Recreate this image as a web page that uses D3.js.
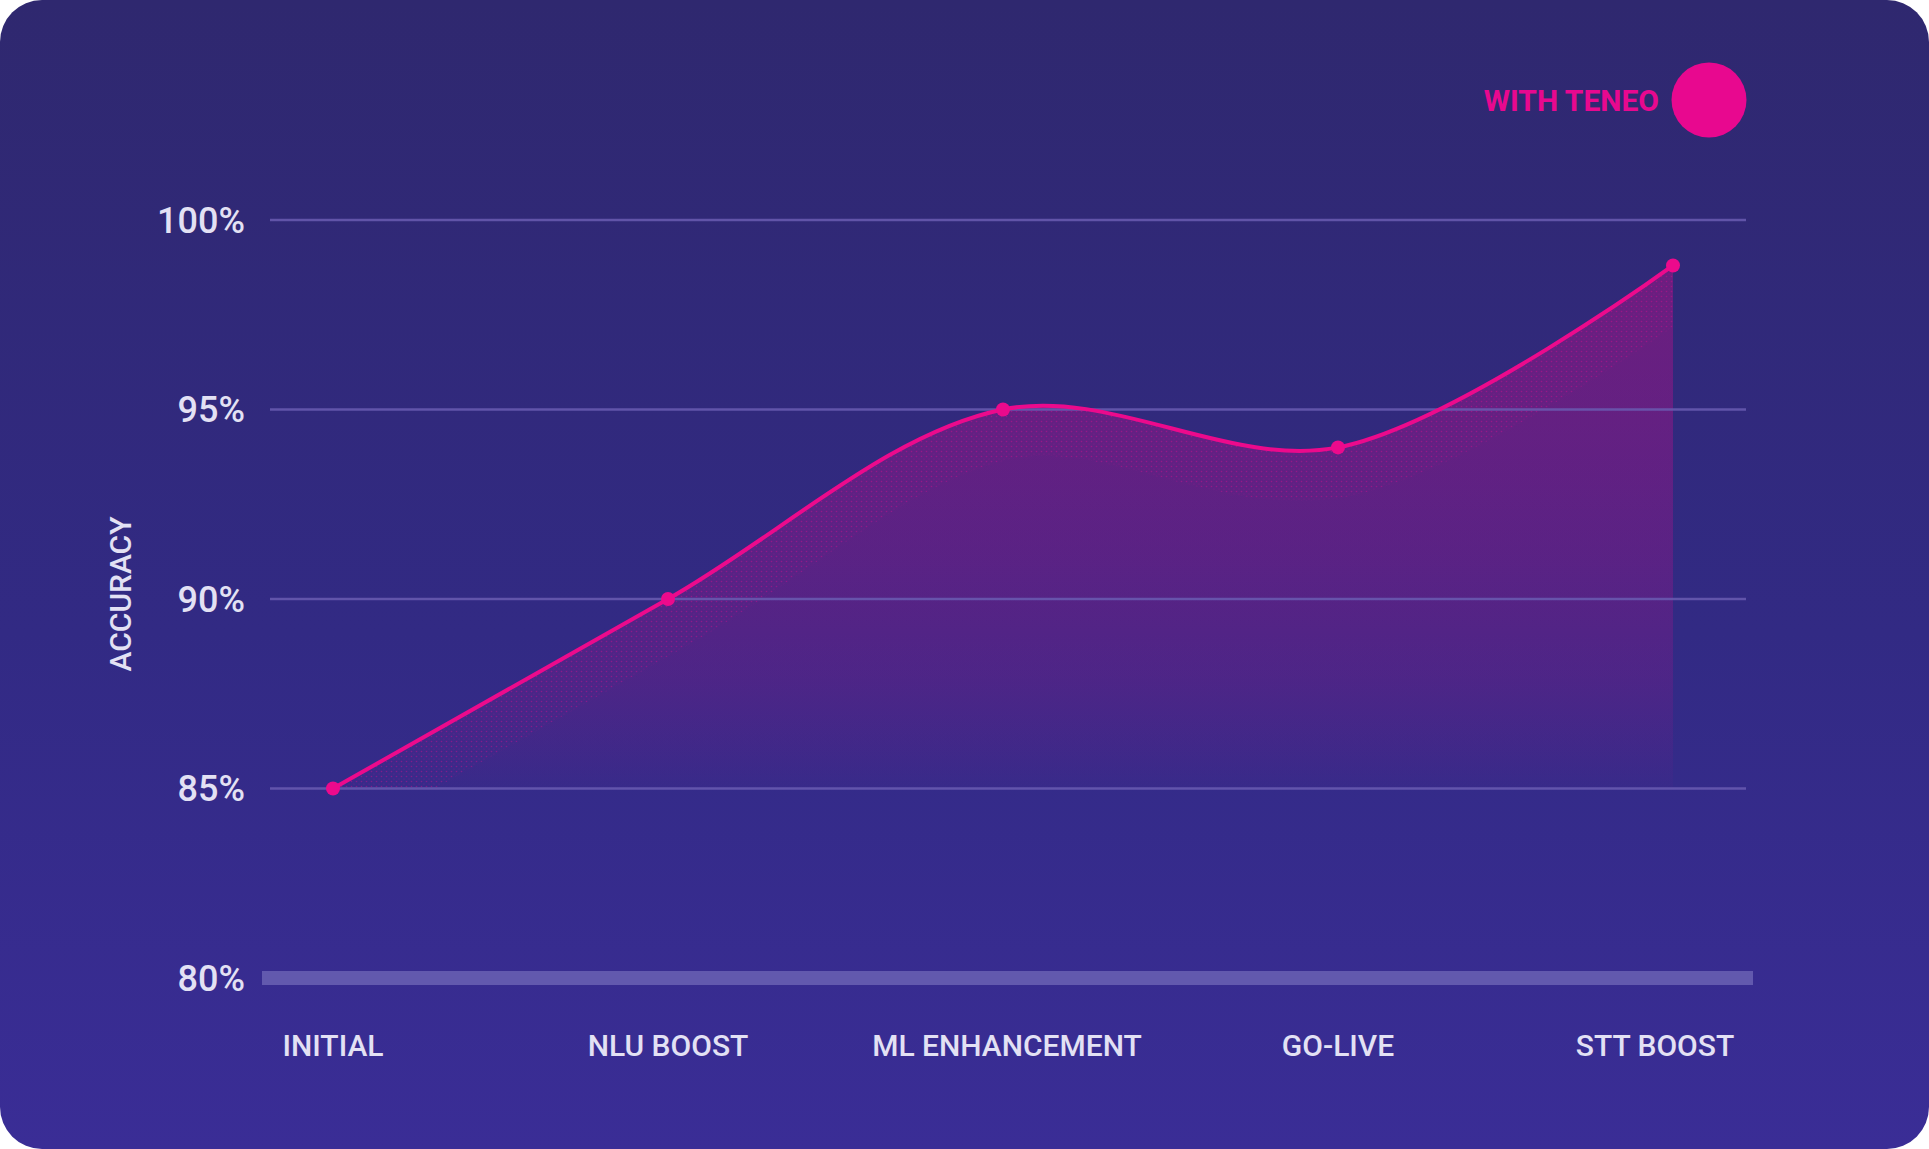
<!DOCTYPE html>
<html><head><meta charset="utf-8">
<script src="https://cdn.jsdelivr.net/npm/d3@7/dist/d3.min.js"></script>
<style>
html,body{margin:0;padding:0;background:#fff;}
svg{display:block;font-family:Roboto,"Noto Sans",sans-serif;}
</style></head>
<body>
<svg id="chart" width="1929" height="1149"></svg>
<script>
const categories = ["INITIAL","NLU BOOST","ML ENHANCEMENT","GO-LIVE","STT BOOST"];
const accuracy = [85, 90, 95, 94, 98.8];
const yTicks = [80, 85, 90, 95, 100];
const seriesName = "WITH TENEO";
const yTitle = "ACCURACY";

// layout only: small horizontal nudges of the category labels
const labelNudge = [0, 0, 4, 0, -18];

const W = 1929, H = 1149;
const svg = d3.select("#chart");
const defs = svg.append("defs");

const bg = defs.append("linearGradient").attr("id","bg").attr("x1",0).attr("y1",0).attr("x2",0).attr("y2",1);
bg.append("stop").attr("offset","0%").attr("stop-color","#2f286f");
bg.append("stop").attr("offset","55%").attr("stop-color","#322a84");
bg.append("stop").attr("offset","100%").attr("stop-color","#3a2d96");

svg.append("rect").attr("x",0).attr("y",0).attr("width",W).attr("height",H)
  .attr("rx",42).attr("ry",42).attr("fill","url(#bg)");

const x = d3.scalePoint().domain(categories).range([333, 1673]);
const y = d3.scaleLinear().domain([80, 100]).range([978, 220]);

const data = categories.map((c, i) => ({c, v: accuracy[i]}));
const curve = d3.curveCatmullRom.alpha(0.5);

// area gradient (user space, fixed per height)
const ag = defs.append("linearGradient").attr("id","ag").attr("gradientUnits","userSpaceOnUse")
  .attr("x1",0).attr("y1",y(100)).attr("x2",0).attr("y2",y(85));
[[0,0.34],[0.4,0.27],[0.6,0.22],[0.8,0.15],[0.93,0.07],[1,0.02]].forEach(([o,a]) =>
  ag.append("stop").attr("offset",o).attr("stop-color","#e8088f").attr("stop-opacity",a));

// dot texture pattern
const pat = defs.append("pattern").attr("id","dots").attr("patternUnits","userSpaceOnUse")
  .attr("width",5).attr("height",5);
pat.append("circle").attr("cx",1.5).attr("cy",1.5).attr("r",0.8).attr("fill","#e8088f").attr("fill-opacity",0.55);
pat.append("circle").attr("cx",4).attr("cy",4).attr("r",0.6).attr("fill","#e8088f").attr("fill-opacity",0.35);

const areaGen = d3.area().x(d => x(d.c)).y0(y(85)).y1(d => y(d.v)).curve(curve);
const lineGen = d3.line().x(d => x(d.c)).y(d => y(d.v)).curve(curve);

defs.append("clipPath").attr("id","areaClip").append("path").datum(data).attr("d", areaGen);

svg.append("path").datum(data).attr("d", areaGen).attr("fill", "url(#ag)");

// dotted band just below the curve
svg.append("path").datum(data).attr("d", lineGen)
  .attr("fill","none").attr("stroke","url(#dots)").attr("stroke-width",100)
  .attr("clip-path","url(#areaClip)").attr("opacity",0.7);

// gridlines
const grid = svg.append("g");
grid.selectAll("line").data(yTicks.filter(d => d !== 80)).join("line")
  .attr("x1", 270).attr("x2", 1746)
  .attr("y1", d => y(d)).attr("y2", d => y(d))
  .attr("stroke", "#6a5cb2").attr("stroke-opacity", 0.85).attr("stroke-width", 2.5);
// baseline bar at 80
grid.append("rect").attr("x", 262).attr("width", 1753 - 262)
  .attr("y", y(80) - 7).attr("height", 14).attr("fill", "#6259ae");

// y labels
svg.append("g").selectAll("text").data(yTicks).join("text")
  .attr("x", 245).attr("y", d => y(d)).attr("dy", "0.36em")
  .attr("text-anchor", "end").attr("font-size", 36).attr("font-weight", 500)
  .attr("fill", "#e3e1f4").text(d => d + "%");

// y title
svg.append("text").attr("transform", "translate(131,594) rotate(-90)")
  .attr("text-anchor", "middle").attr("font-size", 30).attr("font-weight", 500)
  .attr("fill", "#e3e1f4").text(yTitle);

// x labels
svg.append("g").selectAll("text").data(categories).join("text")
  .attr("x", (d, i) => x(d) + labelNudge[i]).attr("y", 1056).attr("text-anchor", "middle")
  .attr("font-size", 30).attr("font-weight", 500).attr("fill", "#e3e1f4").text(d => d);

// line + points
svg.append("path").datum(data).attr("d", lineGen)
  .attr("fill", "none").attr("stroke", "#ec0a8c").attr("stroke-width", 4);

svg.append("g").selectAll("circle").data(data).join("circle")
  .attr("cx", d => x(d.c)).attr("cy", d => y(d.v)).attr("r", 7)
  .attr("fill", "#ec0a8c");

// legend
svg.append("circle").attr("cx", 1709).attr("cy", 100).attr("r", 37.5).attr("fill", "#e8088f");
svg.append("text").attr("x", 1659).attr("y", 111).attr("text-anchor", "end")
  .attr("font-size", 30).attr("font-weight", 700).attr("fill", "#e8088f").text(seriesName);
</script>
</body></html>
